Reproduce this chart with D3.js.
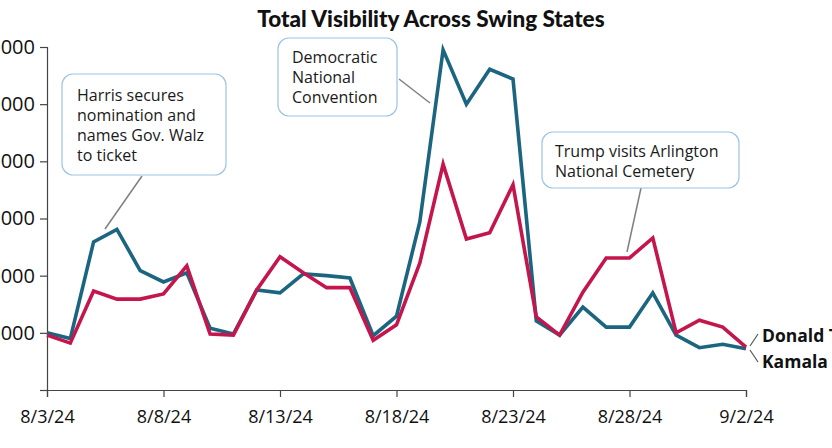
<!DOCTYPE html>
<html><head><meta charset="utf-8">
<script src="https://cdn.jsdelivr.net/npm/d3@7"></script>
<style>
html,body{margin:0;padding:0;background:#fff;overflow:hidden}
svg{display:block}
</style></head>
<body>
<svg id="chart" width="832" height="448"></svg>
<script>
const dates = ["2024-08-03","2024-08-04","2024-08-05","2024-08-06","2024-08-07","2024-08-08","2024-08-09","2024-08-10","2024-08-11","2024-08-12","2024-08-13","2024-08-14","2024-08-15","2024-08-16","2024-08-17","2024-08-18","2024-08-19","2024-08-20","2024-08-21","2024-08-22","2024-08-23","2024-08-24","2024-08-25","2024-08-26","2024-08-27","2024-08-28","2024-08-29","2024-08-30","2024-08-31","2024-09-01","2024-09-02"];
const harris = [100000,90000,259000,281000,209000,189000,205000,108000,98000,175000,170000,203000,200000,196000,95000,129000,294000,595000,500000,561000,544000,121000,96000,145000,110000,110000,170000,96000,74000,80000,72000];
const trump  = [96000,82000,173000,159000,159000,168000,217000,98000,96000,175000,233000,205000,179000,179000,87000,114000,222000,395000,264000,275000,359000,128000,96000,171000,231000,231000,266000,100000,122000,110000,75000];
const xTickDates = ["2024-08-03","2024-08-08","2024-08-13","2024-08-18","2024-08-23","2024-08-28","2024-09-02"];
const yTickValues = [0,100000,200000,300000,400000,500000,600000];
const yTickLabels = ["","100000","200000","300000","400000","500000","600000"];
const seriesNames = ["Donald Trump","Kamala Harris"];
const title = "Total Visibility Across Swing States";
const annotations = [
  {lines:["Harris secures","nomination and","names Gov. Walz","to ticket"], date:"2024-08-06"},
  {lines:["Democratic","National","Convention"], date:"2024-08-20"},
  {lines:["Trump visits Arlington","National Cemetery"], date:"2024-08-28"}
];

const parse = d3.utcParse("%Y-%m-%d");
const svg = d3.select("#chart");
const x = d3.scaleUtc().domain([parse(dates[0]), parse(dates[dates.length-1])]).range([47, 746]);
const y = d3.scaleLinear().domain([0, 600000]).range([390, 47]);
const fontAxis = "'Open Sans', sans-serif";

// title
svg.append("text").attr("x", 431).attr("y", 27).attr("text-anchor","middle")
  .attr("font-family","Lato, sans-serif").attr("font-weight",900).attr("font-size",22.5)
  .attr("fill","#111").text(title);

// y axis
const yAxis = svg.append("g").attr("transform","translate(47,0)")
  .call(d3.axisLeft(y).tickValues(yTickValues).tickSize(7).tickPadding(5)
    .tickFormat((d,i)=>yTickLabels[i]));
yAxis.select(".domain").attr("stroke","#444").attr("stroke-width",1.2);
yAxis.selectAll(".tick line").attr("stroke","#444").attr("stroke-width",1.2);
yAxis.selectAll("text").attr("font-family",fontAxis).attr("font-size",20).attr("fill","#111");

// x axis
const xAxis = svg.append("g").attr("transform","translate(0,390)")
  .call(d3.axisBottom(x).tickValues(xTickDates.map(parse)).tickSizeOuter(0).tickSize(7).tickPadding(13)
    .tickFormat(d3.utcFormat("%-m/%-d/%y")));
xAxis.select(".domain").attr("stroke","#444").attr("stroke-width",1.2);
xAxis.selectAll(".tick line").attr("stroke","#444").attr("stroke-width",1.2);
xAxis.selectAll("text").attr("font-family",fontAxis).attr("font-size",18).attr("fill","#111");

// annotations
const boxes = [
  {x:62,y:74,w:164,h:101,tx:77,ty:101,ldx1:142,ldy1:176,ldx2:105,ldy2:229},
  {x:278,y:38,w:119,h:78,tx:292,ty:63,ldx1:399,ldy1:79,ldx2:430,ldy2:103},
  {x:542,y:132,w:197,h:56,tx:555,ty:157,ldx1:641,ldy1:188,ldx2:627,ldy2:252}
];
annotations.forEach((a,i)=>{
  const b = boxes[i];
  svg.append("line").attr("x1",b.ldx1).attr("y1",b.ldy1).attr("x2",b.ldx2).attr("y2",b.ldy2)
    .attr("stroke","#808080").attr("stroke-width",1.5);
  svg.append("rect").attr("x",b.x).attr("y",b.y).attr("width",b.w).attr("height",b.h)
    .attr("rx",11).attr("fill","#fff").attr("stroke","#9ec4e2").attr("stroke-width",1.2);
  const t = svg.append("text").attr("font-family",fontAxis).attr("font-size",16).attr("fill","#1a1a1a");
  a.lines.forEach((l,j)=>t.append("tspan").attr("x",b.tx).attr("y",b.ty+j*20).text(l));
});

// lines
const line = d3.line().x((d,i)=>x(parse(dates[i]))).y(d=>y(d));
svg.append("path").datum(harris).attr("d",line).attr("fill","none")
  .attr("stroke","#1c6580").attr("stroke-width",3.6).attr("stroke-linejoin","miter");
svg.append("path").datum(trump).attr("d",line).attr("fill","none")
  .attr("stroke","#c4164c").attr("stroke-width",3.6).attr("stroke-linejoin","miter");

// end labels
const ex = x(parse(dates[dates.length-1])), ey = (y(harris[harris.length-1]) + y(trump[trump.length-1]))/2;
svg.append("path").attr("d",`M${ex+12},${ey-14}L${ex+4},${ey-2}M${ex+4},${ey+2}L${ex+12},${ey+14}`)
  .attr("fill","none").attr("stroke","#555").attr("stroke-width",1.2);
svg.append("text").attr("x",ex+16).attr("y",ey-6).attr("font-family",fontAxis).attr("font-weight",700)
  .attr("font-size",17.5).attr("fill","#111").text(seriesNames[0]);
svg.append("text").attr("x",ex+16).attr("y",ey+20).attr("font-family",fontAxis).attr("font-weight",700)
  .attr("font-size",17.5).attr("fill","#111").text(seriesNames[1]);
</script>
</body></html>
